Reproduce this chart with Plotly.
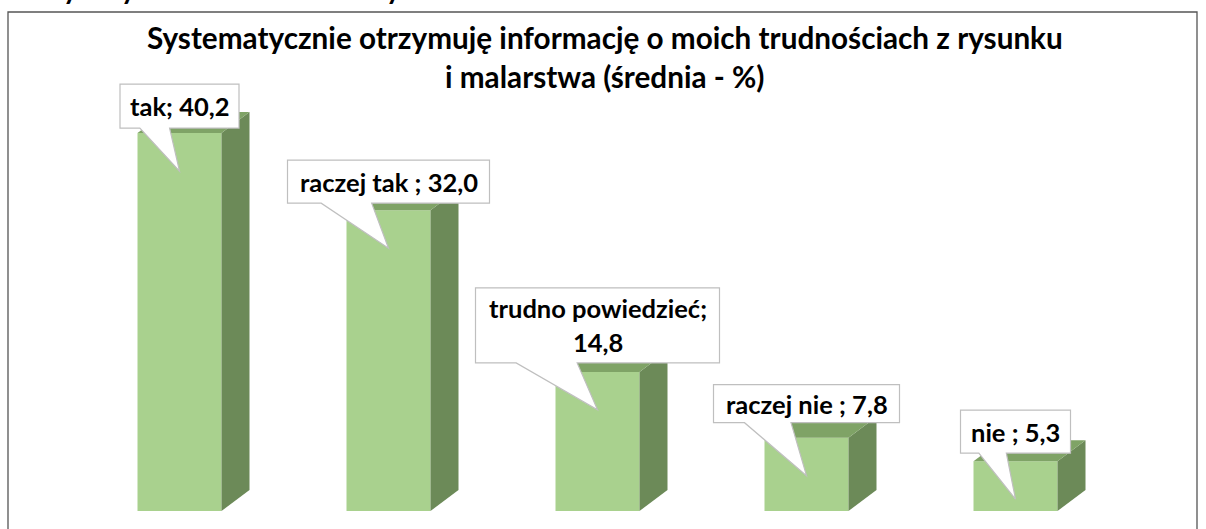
import plotly.graph_objects as go

# Survey answers and their mean share (%)
categories = ["tak", "raczej tak ", "trudno powiedzieć", "raczej nie ", "nie "]
values = [40.2, 32.0, 14.8, 7.8, 5.3]
label_lines = [["tak; 40,2"], ["raczej tak ; 32,0"], ["trudno powiedzieć;", "14,8"],
               ["raczej nie ; 7,8"], ["nie ; 5,3"]]

title_lines = ["Systematycznie otrzymuję informację o moich trudnościach z rysunku",
               "i malarstwa (średnia - %)"]

# Callout box geometry in pixels: width, height, gap above the bar top
box_w = [119, 202, 244, 186, 110]
box_h = [44, 43, 75, 38, 43]
box_gap = [5, 7, 9, 15, 8]
TIP_DEPTH = 38

W, H = 1206, 529
ML, MR, MT, MB = 75, 86, 80, 18
PX_PER_UNIT = 9.4
plot_w = W - ML - MR
plot_h = H - MT - MB
y_max = plot_h / PX_PER_UNIT
x_unit = plot_w / len(categories)

FRONT = "#A9D18E"
SIDE = "#6C8A58"
TOP = "#7FA366"
FONT = "Lato"

bar_w = 84 / x_unit
dx = 28 / x_unit
dy = 21 / PX_PER_UNIT
hw = bar_w / 2


def paper_x(px):
    return (px - ML) / plot_w


def paper_y(py):
    return (H - MB - py) / plot_h


xs = list(range(len(categories)))

fig = go.Figure(go.Bar(x=xs, y=values, width=bar_w, marker=dict(color=FRONT, line=dict(width=0)),
                       hoverinfo="skip"))

shapes = []
# 3D side and top faces of each column
for i, v in zip(xs, values):
    side = (f"M {i + hw},0 L {i + hw + dx},{dy} L {i + hw + dx},{v + dy} "
            f"L {i + hw},{v} Z")
    top = (f"M {i - hw},{v} L {i - hw + dx},{v + dy} L {i + hw + dx},{v + dy} "
           f"L {i + hw},{v} Z")
    shapes.append(dict(type="path", xref="x", yref="y", path=side, fillcolor=SIDE,
                       line=dict(width=0), layer="above"))
    shapes.append(dict(type="path", xref="x", yref="y", path=top, fillcolor=TOP,
                       line=dict(width=0), layer="above"))

annotations = []
# Callout boxes pointing at each column
for i, v in enumerate(values):
    w, h, g = box_w[i], box_h[i], box_gap[i]
    L, R, B, T = -w / 2, w / 2, g, g + h
    x1 = L + w * 2 / 12
    x2 = L + w * 5 / 12
    path = (f"M {L},{B} L {L},{T} L {R},{T} L {R},{B} L {x2},{B} "
            f"L 0,{-TIP_DEPTH} L {x1},{B} Z")
    shapes.append(dict(type="path", xsizemode="pixel", ysizemode="pixel",
                       xref="x", yref="y", xanchor=i, yanchor=v, path=path,
                       fillcolor="white", line=dict(color="#BFBFBF", width=1.2),
                       layer="above"))
    lines = label_lines[i]
    n = len(lines)
    spacing = 34
    for k, line in enumerate(lines):
        shift = g + h / 2 + ((n - 1) / 2 - k) * spacing
        annotations.append(dict(x=i, y=v, xref="x", yref="y", text=line, showarrow=False,
                                xanchor="center", yanchor="middle", yshift=shift,
                                font=dict(family=FONT, size=25.5, color="#000000",
                                          weight="bold")))

# Title lines
title_base = [37, 77]
for line, py in zip(title_lines, title_base):
    annotations.append(dict(x=paper_x(605), y=paper_y(py), xref="paper", yref="paper",
                            text=line, showarrow=False, xanchor="center", yanchor="middle",
                            font=dict(family=FONT, size=29.7, color="#000000", weight="bold")))

# Tails of the heading line above the chart frame
for px in [70, 128, 393]:
    annotations.append(dict(x=paper_x(px), y=paper_y(-12), xref="paper", yref="paper",
                            text="y", showarrow=False, xanchor="center", yanchor="middle",
                            font=dict(family=FONT, size=28, color="#000000", weight="bold")))

# Chart frame
shapes.append(dict(type="rect", xref="paper", yref="paper",
                   x0=paper_x(8), x1=paper_x(1197), y0=paper_y(560), y1=paper_y(12),
                   line=dict(color="#555555", width=1.3), fillcolor="rgba(0,0,0,0)",
                   layer="above"))

fig.update_layout(
    width=W, height=H,
    margin=dict(l=ML, r=MR, t=MT, b=MB, pad=0),
    paper_bgcolor="white", plot_bgcolor="white",
    showlegend=False,
    xaxis=dict(range=[-0.5, len(categories) - 0.5], visible=False, fixedrange=True),
    yaxis=dict(range=[0, y_max], visible=False, fixedrange=True),
    shapes=shapes, annotations=annotations,
)

fig.write_html("out.html")
